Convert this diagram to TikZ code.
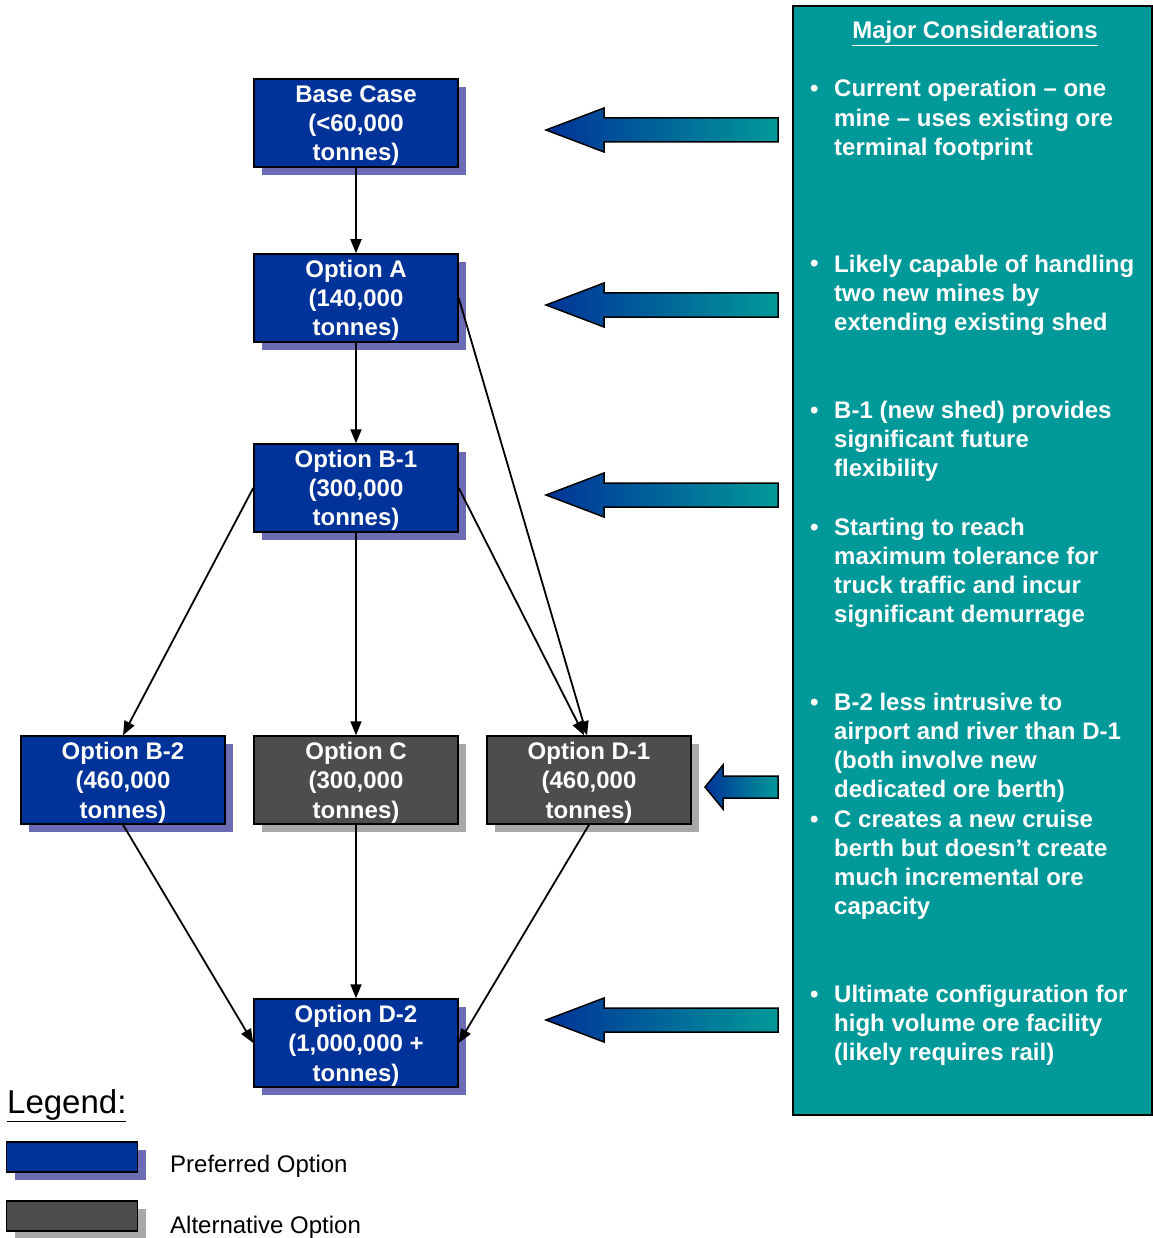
\documentclass[tikz,border=0pt]{standalone}
\usepackage{fontspec}
\setmainfont{Liberation Sans}
\usetikzlibrary{arrows.meta, shadows}
\definecolor{prefblue}{RGB}{0,51,153}
\definecolor{prefshadow}{RGB}{108,108,180}
\definecolor{altgray}{RGB}{77,77,77}
\definecolor{altshadow}{RGB}{168,168,168}
\definecolor{panelteal}{RGB}{0,153,153}
\newcommand{\optfont}{\fontsize{24}{29.3}\selectfont\bfseries}
\newcommand{\keyfont}{\fontsize{24}{29}\selectfont}

\begin{document}
\begin{tikzpicture}[x=1pt, y=-1pt,
    option/.style={draw=black, line width=1.5pt, minimum width=204pt, minimum height=88pt, inner sep=0pt, align=center, text=white, font=\optfont, text depth=0pt},
    preferred/.style={option, fill=prefblue, general shadow={fill=prefshadow, shadow xshift=8pt, shadow yshift=-8pt}},
    alternative/.style={option, fill=altgray, general shadow={fill=altshadow, shadow xshift=8pt, shadow yshift=-8pt}},
    legendbox/.style={minimum width=131pt, minimum height=30pt},
    link/.style={line width=1.8pt, -{Triangle[length=14pt,width=11pt]}},
    blockarrow/.style={draw=black, line width=1.5pt, left color=prefblue, right color=panelteal},
    panel/.style={draw=black, line width=1.5pt, fill=panelteal, minimum width=359pt, minimum height=1109pt, inner sep=0pt},
    note/.style={text=white, font=\optfont, align=left, anchor=base west, inner sep=0pt}]
        \useasboundingbox (0,0) rectangle (1152,1238);

        % Options
        \node[preferred] (base) at (356,123) {Base Case\\(<60,000\\tonnes)};
        \node[preferred] (A) at (356,298) {Option A\\(140,000\\tonnes)};
        \node[preferred] (B1) at (356,488) {Option B-1\\(300,000\\tonnes)};
        \node[preferred] (B2) at (123,780) {Option B-2\\(460,000\\tonnes)};
        \node[alternative] (C) at (356,780) {Option C\\(300,000\\tonnes)};
        \node[alternative] (D1) at (589,780) {Option D-1\\(460,000\\tonnes)};
        \node[preferred] (D2) at (356,1043) {Option D-2\\(1,000,000 +\\tonnes)};

        % Links - black
        \draw[link] (base) -- (A);
        \draw[link] (A) -- (B1);
        \draw[link] (A.east) -- ([xshift=-2pt]D1.north);
        \draw[link] (B1.west) -- (B2.north);
        \draw[link] (B1) -- (C);
        \draw[link] (B1.east) -- ([xshift=-5pt]D1.north);
        \draw[link] (B2.south) -- (D2.west);
        \draw[link] (C) -- (D2);
        \draw[link] (D1.south) -- (D2.east);

        % Block arrows
        \foreach \y in {130,305,495,1020}
            \shadedraw[blockarrow] (778,\y-12) -- (604,\y-12) -- (604,\y-22) -- (546,\y) -- (604,\y+22) -- (604,\y+12) -- (778,\y+12) -- cycle;
        \shadedraw[blockarrow] (778,776) -- (723,776) -- (723,765) -- (705,787) -- (723,809) -- (723,798) -- (778,798) -- cycle;

        % Major considerations (notes sit on the baseline of their last line)
        \node[panel] (panel) at (972.5,560.5) {};
        \node[note, anchor=base] (title) at (975,39) {\underline{Major Considerations}};
        \node[note] (dot1) at (810,97) {•};
        \node[note] (note1) at (834,155.6) {Current operation – one\\mine – uses existing ore\\terminal footprint};
        \node[note] (dot2) at (810,272) {•};
        \node[note] (note2) at (834,330.6) {Likely capable of handling\\two new mines by\\extending existing shed};
        \node[note] (dot3) at (810,418) {•};
        \node[note] (note3) at (834,476.6) {B-1 (new shed) provides\\significant future\\flexibility};
        \node[note] (dot4) at (810,535) {•};
        \node[note] (note4) at (834,622.9) {Starting to reach\\maximum tolerance for\\truck traffic and incur\\significant demurrage};
        \node[note] (dot5) at (810,710) {•};
        \node[note] (note5) at (834,797.9) {B-2 less intrusive to\\airport and river than D-1\\(both involve new\\dedicated ore berth)};
        \node[note] (dot6) at (810,827) {•};
        \node[note] (note6) at (834,914.9) {C creates a new cruise\\berth but doesn’t create\\much incremental ore\\capacity};
        \node[note] (dot7) at (810,1002) {•};
        \node[note] (note7) at (834,1060.6) {Ultimate configuration for\\high volume ore facility\\(likely requires rail)};

        % Legend
        \node[anchor=base west, inner sep=0pt, font=\fontsize{33}{38}\selectfont] (legend) at (7,1113) {\underline{Legend:}};
        \node[preferred, legendbox] (keypref) at (72,1157) {};
        \node[alternative, legendbox] (keyalt) at (72,1216) {};
        \node[anchor=base west, inner sep=0pt, font=\keyfont] (preftext) at (170,1172) {Preferred Option};
        \node[anchor=base west, inner sep=0pt, font=\keyfont] (alttext) at (170,1233) {Alternative Option};
      \end{tikzpicture}
\end{document}
